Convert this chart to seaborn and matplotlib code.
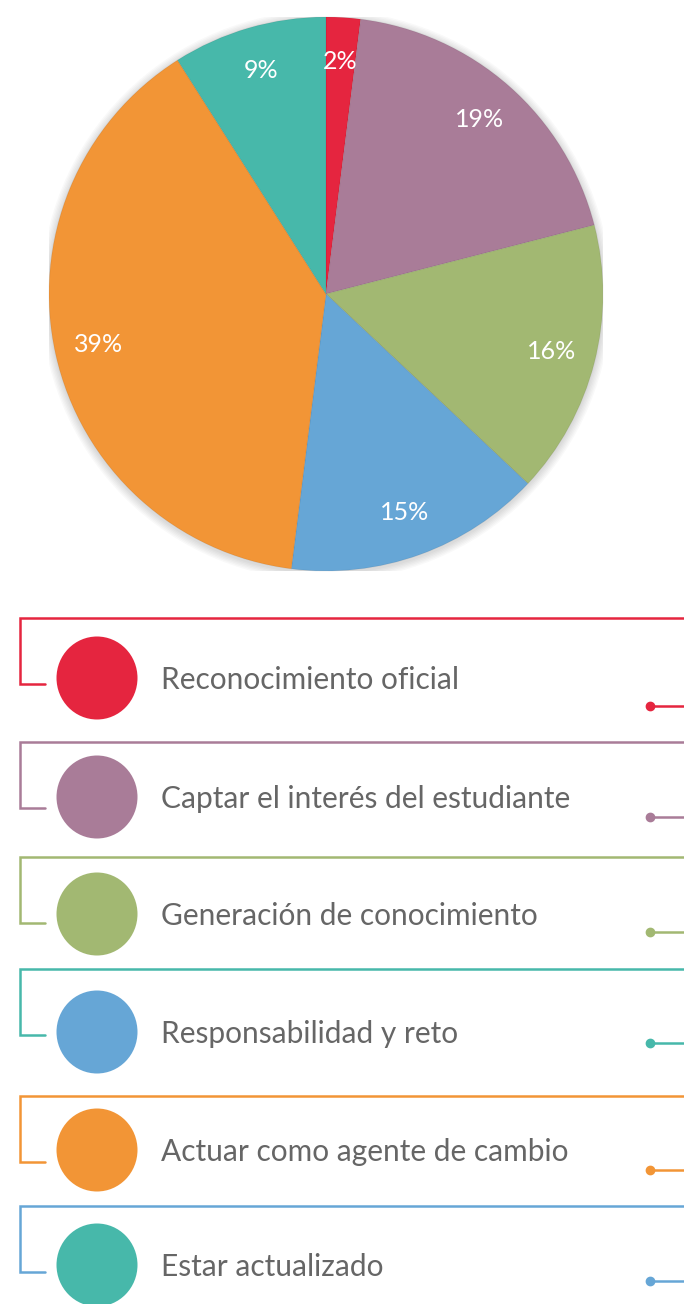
import numpy as np
import matplotlib
matplotlib.use("Agg")
import matplotlib.pyplot as plt
import seaborn as sns
from matplotlib.patches import Ellipse, Circle

# datos del grafico (porcentajes)
categorias = ["Reconocimiento oficial", "Captar el interés del estudiante",
              "Generación de conocimiento", "Responsabilidad y reto",
              "Actuar como agente de cambio", "Estar actualizado"]
porcentajes = [2, 19, 16, 15, 39, 9]
colores = ["#E5253F", "#A97C98", "#A2B872", "#66A6D6", "#F29536", "#47B8AA"]
# color de la linea de cada bloque de leyenda (no coincide siempre con el circulo)
colores_linea = ["#E5253F", "#A97C98", "#A2B872", "#47B8AA", "#F29536", "#66A6D6"]

# posiciones de la leyenda en pixeles (y de la linea superior, circulo, punto)
y_linea = [618, 742, 857, 969, 1096, 1206]
y_circulo = [678, 797, 914, 1032, 1150, 1265]
y_punto = [706, 817, 932, 1043, 1170, 1281]

sns.set_theme(style="white")
plt.rcParams['font.family'] = ['Lato', 'DejaVu Sans']

W, H = 684, 1304
fig = plt.figure(figsize=(W / 100, H / 100), dpi=100)
fig.patch.set_facecolor("white")

### Pie ###
cx, cy, r = 326, 294, 277
ax_pie = fig.add_axes([(cx - r) / W, (H - cy - r) / H, 2 * r / W, 2 * r / H])

wedges, texts, autotexts = ax_pie.pie(
    porcentajes, colors=colores, startangle=90, counterclock=False,
    autopct=lambda p: f"{p:.0f}%", pctdistance=0.84, radius=1.0,
    wedgeprops=dict(linewidth=0.8, edgecolor=(0, 0, 0, 0.06)),
    textprops=dict(color="white", fontsize=18))
for w in wedges:
    w.set_zorder(2)
for t in autotexts:
    t.set_zorder(3)

# sombra suave detras del pie
for i in range(6):
    ax_pie.add_patch(Circle((0.0, -0.006), 1.0 + 0.005 * (i + 1), color="black",
                            alpha=0.025, lw=0, zorder=0))

ax_pie.set_xlim(-1.0, 1.0)
ax_pie.set_ylim(-1.0, 1.0)
ax_pie.set_aspect("equal")
ax_pie.axis("off")

### Leyenda ###
ax_leg = fig.add_axes([0, 0, 1, 1], zorder=-1)
ax_leg.set_xlim(0, W)
ax_leg.set_ylim(H, 0)
ax_leg.axis("off")

for i, cat in enumerate(categorias):
    lc = colores_linea[i]
    yl = y_linea[i]
    yb = yl + 66
    ax_leg.plot([W + 2, 20, 20, 45], [yl, yl, yb, yb], color=lc, lw=1.8,
                solid_joinstyle="miter")
    ax_leg.add_patch(Ellipse((97, y_circulo[i]), 81, 83, color=colores[i], lw=0))
    ax_leg.text(161, y_circulo[i] + 2, cat, fontsize=21.5, color="#666666",
                va="center", ha="left")
    ax_leg.plot([650, W + 2], [y_punto[i], y_punto[i]], color=lc, lw=1.8)
    ax_leg.plot([650], [y_punto[i]], "o", color=lc, ms=6)

fig.savefig("out.png", dpi=100)
